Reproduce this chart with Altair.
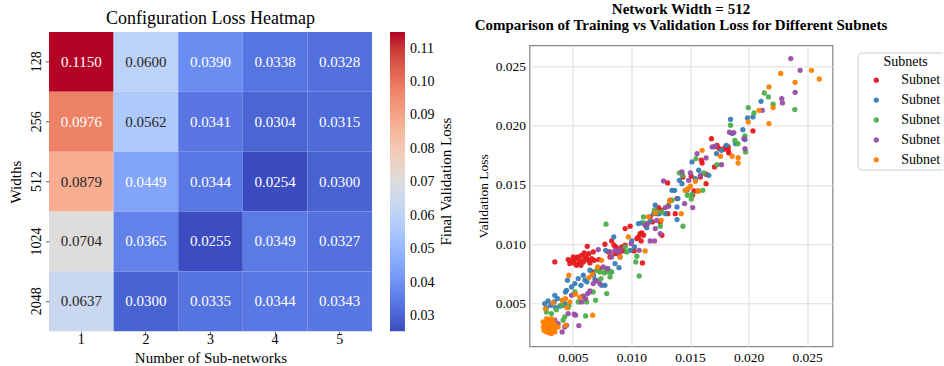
import altair as alt
import pandas as pd

FONT = "Liberation Serif"

# ---------------- Heatmap data ----------------
widths = ["128", "256", "512", "1024", "2048"]
n_subnets = ["1", "2", "3", "4", "5"]
loss_128 = [0.1150, 0.0600, 0.0390, 0.0338, 0.0328]
loss_256 = [0.0976, 0.0562, 0.0341, 0.0304, 0.0315]
loss_512 = [0.0879, 0.0449, 0.0344, 0.0254, 0.0300]
loss_1024 = [0.0704, 0.0365, 0.0255, 0.0349, 0.0327]
loss_2048 = [0.0637, 0.0300, 0.0335, 0.0344, 0.0343]
cbar_ticks = [0.03, 0.04, 0.05, 0.06, 0.07, 0.08, 0.09, 0.10, 0.11]

# ---------------- Scatter data ----------------
s1_train = [0.00346, 0.0046, 0.00489, 0.00511, 0.00523, 0.0054, 0.00546, 0.0056, 0.00574, 0.00589, 0.00603, 0.00617,
            0.00631, 0.00637, 0.00474, 0.00503, 0.00531, 0.00569, 0.00597, 0.00646, 0.0066, 0.00623, 0.00674, 0.00683,
            0.00723, 0.00774, 0.00803, 0.00817, 0.00731, 0.00666, 0.00831, 0.00851, 0.00866, 0.00883, 0.00903, 0.00917,
            0.00931, 0.00946, 0.0086, 0.00894, 0.00946, 0.00989, 0.01023, 0.01046, 0.0106, 0.01074, 0.01089, 0.01103,
            0.01083, 0.01094, 0.0116, 0.0118, 0.01217, 0.01231, 0.01254, 0.01246, 0.0126, 0.01309, 0.01331, 0.01389,
            0.01374, 0.01311, 0.0144, 0.01511, 0.01523, 0.01534, 0.01569, 0.01589, 0.01597, 0.01603, 0.01637, 0.01637,
            0.01683, 0.01731, 0.01751, 0.01789, 0.01803, 0.01826, 0.01826, 0.01709, 0.01831, 0.02037]
s1_val = [0.00851, 0.00871, 0.0086, 0.00843, 0.00879, 0.00893, 0.00837, 0.00865, 0.00907, 0.00851, 0.00879, 0.00893,
          0.00865, 0.00921, 0.00837, 0.00893, 0.00823, 0.00823, 0.00927, 0.00843, 0.00879, 0.00983, 0.00935, 0.00865,
          0.00871, 0.0100, 0.00935, 0.00893, 0.00795, 0.00767, 0.01028, 0.00992, 0.00978, 0.00963, 0.00949, 0.00978,
          0.00944, 0.00992, 0.00921, 0.00916, 0.01132, 0.01152, 0.00944, 0.01048, 0.01062, 0.0109, 0.01096, 0.01076,
          0.01028, 0.00843, 0.0123, 0.01188, 0.01258, 0.01309, 0.01287, 0.01188, 0.01076, 0.01517, 0.01371, 0.01385,
          0.01258, 0.01258, 0.01567, 0.01573, 0.01416, 0.01449, 0.01449, 0.01567, 0.01708, 0.01685, 0.01511, 0.0159,
          0.0189, 0.01834, 0.01806, 0.01801, 0.0182, 0.0182, 0.01792, 0.01652, 0.0177, 0.01955]

s2_train = [0.0026, 0.00274, 0.00289, 0.00311, 0.0034, 0.00351, 0.00369, 0.00389, 0.00417, 0.00431, 0.00346, 0.00437,
            0.00446, 0.00454, 0.00489, 0.00517, 0.00546, 0.00569, 0.00589, 0.00603, 0.0062, 0.00646, 0.00677, 0.00689,
            0.00717, 0.00746, 0.00774, 0.0078, 0.00797, 0.00826, 0.00849, 0.0086, 0.00894, 0.00903, 0.00989, 0.01003,
            0.01026, 0.0106, 0.01089, 0.01131, 0.0116, 0.01189, 0.01203, 0.01237, 0.01289, 0.01346, 0.01369, 0.01389,
            0.01389, 0.01409, 0.01397, 0.01431, 0.0146, 0.01474, 0.01517, 0.01546, 0.01574, 0.0166, 0.01726, 0.01769,
            0.01811, 0.01846, 0.0186, 0.01889, 0.01951, 0.01969, 0.01991, 0.02037, 0.02106, 0.0026, 0.0028, 0.0032]
s2_val = [0.005, 0.00466, 0.00522, 0.00486, 0.00514, 0.00466, 0.00542, 0.00478, 0.00486, 0.005, 0.0057, 0.00598,
          0.00612, 0.00697, 0.0064, 0.00669, 0.00711, 0.00654, 0.00739, 0.00697, 0.00683, 0.00781, 0.00739, 0.00702,
          0.00781, 0.00654, 0.00654, 0.00949, 0.00795, 0.00767, 0.01062, 0.00837, 0.00803, 0.00893, 0.00949, 0.01028,
          0.00978, 0.01174, 0.0118, 0.0114, 0.01197, 0.01258, 0.01329, 0.01258, 0.01258, 0.01455, 0.01455, 0.01208,
          0.01315, 0.01539, 0.01385, 0.01511, 0.01455, 0.01455, 0.01694, 0.01553, 0.01624, 0.01581, 0.01764, 0.01792,
          0.01834, 0.02053, 0.01933, 0.01848, 0.01966, 0.01882, 0.02065, 0.02073, 0.02205, 0.0031, 0.0035, 0.0029]

s3_train = [0.00274, 0.00317, 0.0036, 0.00403, 0.00417, 0.00431, 0.0046, 0.00466, 0.00517, 0.00546, 0.00569, 0.00609,
            0.00617, 0.00646, 0.00674, 0.00694, 0.00703, 0.00731, 0.0074, 0.00769, 0.0078, 0.00789, 0.00803, 0.00817,
            0.00831, 0.00783, 0.00946, 0.0096, 0.01037, 0.01046, 0.01066, 0.01103, 0.01111, 0.01197, 0.01217, 0.01246,
            0.0126, 0.01317, 0.01346, 0.01409, 0.0144, 0.01437, 0.01477, 0.01511, 0.01517, 0.01551, 0.01609, 0.01617,
            0.01711, 0.01731, 0.01846, 0.01883, 0.01909, 0.01969, 0.01974, 0.01997, 0.02046, 0.02134, 0.02169, 0.02209,
            0.02394, 0.0029, 0.0035]
s3_val = [0.0043, 0.00416, 0.00449, 0.00486, 0.0036, 0.00388, 0.00466, 0.00486, 0.00598, 0.00514, 0.00556, 0.00396,
          0.00514, 0.00598, 0.00598, 0.00528, 0.00781, 0.00767, 0.00711, 0.00758, 0.00781, 0.00584, 0.00767, 0.00725,
          0.00767, 0.01169, 0.00978, 0.00935, 0.00851, 0.00899, 0.00733, 0.0123, 0.0118, 0.01287, 0.01272, 0.01152,
          0.01272, 0.01329, 0.01371, 0.01601, 0.01152, 0.01581, 0.01413, 0.01382, 0.01421, 0.01722, 0.01455, 0.01601,
          0.0182, 0.01671, 0.02003, 0.01876, 0.01848, 0.01913, 0.01778, 0.02152, 0.02107, 0.02275, 0.02242, 0.0218,
          0.02135, 0.0033, 0.0030]

s4_train = [0.00303, 0.00346, 0.00374, 0.00409, 0.00431, 0.00446, 0.0046, 0.00489, 0.00511, 0.00523, 0.00551, 0.00574,
            0.00589, 0.00609, 0.00626, 0.00646, 0.00674, 0.00703, 0.00717, 0.00731, 0.0076, 0.00797, 0.00817, 0.00831,
            0.0086, 0.00883, 0.00903, 0.00997, 0.01066, 0.01117, 0.0114, 0.0116, 0.01197, 0.01203, 0.01217, 0.01246,
            0.01274, 0.01289, 0.01317, 0.01431, 0.01454, 0.01489, 0.01503, 0.01523, 0.0156, 0.01589, 0.01637, 0.01689,
            0.01717, 0.01769, 0.01837, 0.01874, 0.0196, 0.01969, 0.02117, 0.02283, 0.02289, 0.0236, 0.02397, 0.0244,
            0.00283, 0.0032]
s4_val = [0.00346, 0.0036, 0.00331, 0.00261, 0.00303, 0.00317, 0.00416, 0.0057, 0.0041, 0.00402, 0.00315, 0.00514,
          0.00562, 0.00542, 0.00584, 0.00607, 0.00669, 0.00691, 0.00955, 0.00669, 0.00809, 0.00795, 0.00935, 0.00893,
          0.00949, 0.00935, 0.00955, 0.01006, 0.00949, 0.0116, 0.01174, 0.01028, 0.01028, 0.01132, 0.01202, 0.0109,
          0.01534, 0.01309, 0.0132, 0.0161, 0.01343, 0.01539, 0.01601, 0.01309, 0.01764, 0.01581, 0.01728, 0.0182,
          0.01826, 0.01671, 0.01944, 0.01941, 0.0189, 0.01806, 0.02129, 0.02228, 0.02191, 0.02565, 0.02281, 0.02466,
          0.0028, 0.0027]

s5_train = [0.00246, 0.0026, 0.00266, 0.00274, 0.00283, 0.00289, 0.00294, 0.00303, 0.00311, 0.00317, 0.00323, 0.00331,
            0.0034, 0.00346, 0.00254, 0.00277, 0.003, 0.00329, 0.00351, 0.00266, 0.00306, 0.00289, 0.00334, 0.00249,
            0.00317, 0.00266, 0.00331, 0.00374, 0.00409, 0.00437, 0.00449, 0.00474, 0.00466, 0.00523, 0.0056, 0.00637,
            0.00666, 0.00711, 0.00746, 0.00437, 0.00669, 0.00903, 0.00974, 0.01117, 0.01146, 0.01203, 0.01254, 0.01326,
            0.01426, 0.0146, 0.01483, 0.01503, 0.01546, 0.01569, 0.01603, 0.0176, 0.0186, 0.01911, 0.01911, 0.01997,
            0.02089, 0.02174, 0.02174, 0.02209, 0.02274, 0.02397, 0.02537, 0.02603]
s5_val = [0.00346, 0.00317, 0.00289, 0.00261, 0.0036, 0.00331, 0.00303, 0.00275, 0.00346, 0.00247, 0.00317, 0.00289,
          0.00331, 0.00261, 0.00275, 0.00374, 0.00253, 0.0036, 0.00303, 0.00331, 0.00309, 0.0027, 0.0027, 0.00303,
          0.00374, 0.00458, 0.00506, 0.00303, 0.00528, 0.00542, 0.00466, 0.00514, 0.00739, 0.00579, 0.00551, 0.00719,
          0.00747, 0.00809, 0.00865, 0.00317, 0.00402, 0.00893, 0.01062, 0.00944, 0.0123, 0.01264, 0.01202, 0.01365,
          0.01258, 0.01455, 0.01469, 0.01489, 0.01531, 0.01449, 0.01792, 0.01742, 0.01742, 0.0173, 0.01685, 0.02031,
          0.02129, 0.02326, 0.02017, 0.02152, 0.0244, 0.02365, 0.02466, 0.02393]

subnet_names = ["Subnet 1", "Subnet 2", "Subnet 3", "Subnet 4", "Subnet 5"]
subnet_colors = ["#e41a1c", "#377eb8", "#4daf4a", "#984ea3", "#ff7f00"]

# coolwarm colormap stops
coolwarm = ["#3b4cc0", "#4d68d7", "#6282ea", "#779af7", "#8db0fe", "#a3c2ff", "#b8d0f9", "#ccd9ee", "#dddddd",
            "#ecd3c5", "#f5c4ad", "#f7b194", "#f49a7b", "#ec7f63", "#de604d", "#cb3e38", "#b40426"]

# ---------------- Build tables ----------------
all_rows = [loss_128, loss_256, loss_512, loss_1024, loss_2048]
heat_rows = []
for w, row in zip(widths, all_rows):
    for n, v in zip(n_subnets, row):
        heat_rows.append({"width": w, "n": n, "loss": v})
heat_df = pd.DataFrame(heat_rows)

vmin = min(min(r) for r in all_rows)
vmax = max(max(r) for r in all_rows)
color_domain = [vmin + (vmax - vmin) * i / (len(coolwarm) - 1) for i in range(len(coolwarm))]

sc_rows = []
for name, xs, ys in zip(subnet_names,
                        [s1_train, s2_train, s3_train, s4_train, s5_train],
                        [s1_val, s2_val, s3_val, s4_val, s5_val]):
    for a, b in zip(xs, ys):
        sc_rows.append({"subnet": name, "train": a, "val": b})
sc_df = pd.DataFrame(sc_rows)

one_row = pd.DataFrame({"label": ["Final Validation Loss"]})

# heatmap sits 13.4px higher than the scatter panel
SHIFT = 13.4
HM_H = 286.0

# ---------------- Heatmap ----------------
base = alt.Chart(heat_df).encode(
    x=alt.X("n:N", sort=n_subnets, title="Number of Sub-networks",
            scale=alt.Scale(paddingInner=0, paddingOuter=0),
            axis=alt.Axis(labelAngle=0, labelFontSize=14, titleFontSize=15, domain=False,
                          ticks=True, tickSize=3.5, tickColor="#333333", tickWidth=0.8,
                          labelPadding=-2, titlePadding=3.5, labelColor="black", titleColor="black")),
    y=alt.Y("width:N", sort=widths, title="Widths",
            scale=alt.Scale(paddingInner=0, paddingOuter=0, range=[-SHIFT, HM_H]),
            axis=alt.Axis(labelAngle=270, labelAlign="center", labelBaseline="bottom", labelFontSize=14,
                          titleFontSize=15, domain=False, ticks=True, tickSize=3.5, tickColor="#333333",
                          tickWidth=0.8, labelPadding=2, titlePadding=6, labelColor="black", titleColor="black")),
)
rect = base.mark_rect().encode(
    color=alt.Color("loss:Q",
                    scale=alt.Scale(domain=color_domain, range=coolwarm, interpolate="rgb"),
                    legend=alt.Legend(title=None, orient="none", legendX=341, legendY=-SHIFT,
                                      direction="vertical", gradientLength=299.4, gradientThickness=15,
                                      values=cbar_ticks, format=".2f", labelFont=FONT, labelFontSize=14,
                                      labelColor="black", labelOffset=5, gradientStrokeWidth=0))
)
text = base.mark_text(font=FONT, fontSize=15).encode(
    text=alt.Text("loss:Q", format=".4f"),
    color=alt.condition("datum.loss > 0.05 && datum.loss < 0.095", alt.value("#262626"), alt.value("white")),
)
cbar_title = alt.Chart(one_row).mark_text(font=FONT, fontSize=15, angle=270, align="center",
                                          baseline="middle", color="black").encode(
    text="label:N", x=alt.value(397), y=alt.value(149.7 - SHIFT))

heatmap = alt.layer(rect, text, cbar_title).properties(
    width=323, height=HM_H,
    title=alt.TitleParams("Configuration Loss Heatmap", font=FONT, fontSize=18, fontWeight="normal",
                          color="black", offset=3.6),
    view=alt.ViewBackground(strokeWidth=0),
)

# ---------------- Scatter ----------------
scatter = alt.Chart(sc_df).mark_circle(size=28, opacity=0.95).encode(
    x=alt.X("train:Q", title="Training Loss",
            scale=alt.Scale(domain=[0.0013, 0.02716], nice=False, zero=False),
            axis=alt.Axis(values=[0.005, 0.010, 0.015, 0.020, 0.025], format=".3f", labelFontSize=13.5,
                          titleFontSize=13.5, ticks=False, domain=False, grid=True, gridColor="#dddddd",
                          labelPadding=4, labelColor="black", titleColor="black", titlePadding=4)),
    y=alt.Y("val:Q", title="Validation Loss",
            scale=alt.Scale(domain=[0.0014, 0.02677], nice=False, zero=False),
            axis=alt.Axis(values=[0.005, 0.010, 0.015, 0.020, 0.025], format=".3f", labelFontSize=13.5,
                          titleFontSize=13.5, ticks=False, domain=False, grid=True, gridColor="#dddddd",
                          labelPadding=4, labelColor="black", titleColor="black", titlePadding=4.5)),
    color=alt.Color("subnet:N", scale=alt.Scale(domain=subnet_names, range=subnet_colors),
                    legend=alt.Legend(title="Subnets", orient="none", legendX=328.1, legendY=7.3, padding=2,
                                      strokeColor="#cccccc", cornerRadius=4, fillColor="white",
                                      symbolType="circle", symbolSize=28, symbolStrokeWidth=0,
                                      symbolOffset=9.7, labelFont=FONT, labelFontSize=14,
                                      labelColor="black", labelOffset=18, titleFont=FONT, titleFontSize=14,
                                      titleFontWeight="normal", titleColor="black", titleAnchor="middle",
                                      rowPadding=5.9, titlePadding=4.6)),
).properties(
    width=303, height=301,
    title=alt.TitleParams(["Network Width = 512",
                           "Comparison of Training vs Validation Loss for Different Subnets"],
                          font=FONT, fontSize=15, fontWeight="bold", color="black", lineHeight=16,
                          offset=12.4),
    view=alt.ViewBackground(stroke="#888888", strokeWidth=1.2),
)

chart = alt.hconcat(heatmap, scatter, spacing=18.5).resolve_scale(color="independent").properties(
    padding={"left": 8, "top": 1.3, "right": -11.6, "bottom": 0},
    background="white",
).configure_axis(labelFont=FONT, titleFont=FONT, titleFontWeight="normal").configure_view(stroke="transparent")

chart.save("out.html", embed_options={"renderer": "svg", "actions": False})
